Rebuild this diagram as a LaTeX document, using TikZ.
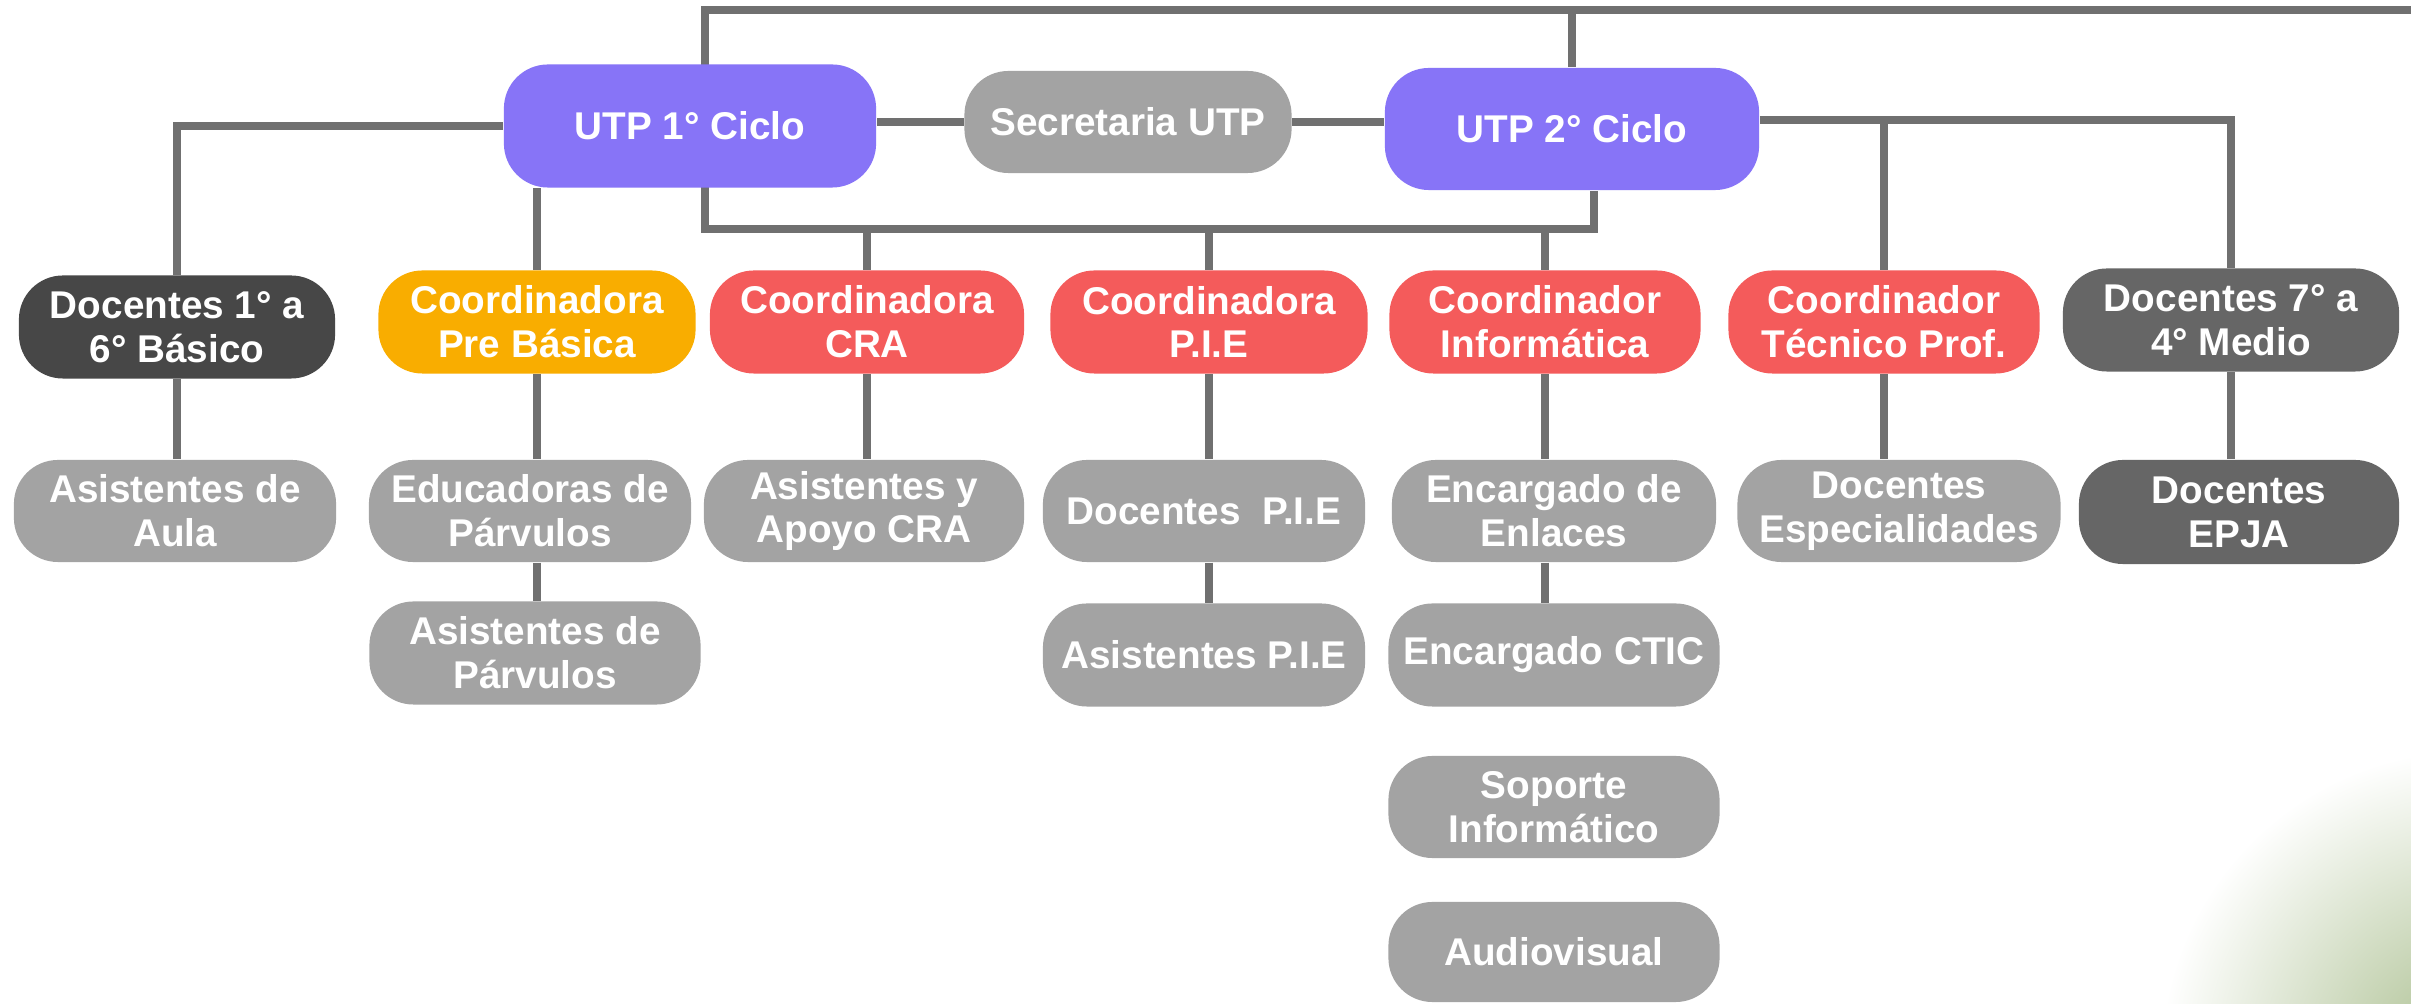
\documentclass[tikz,border=0pt]{standalone}
\usepackage{fontspec}
\setmainfont{Liberation Sans}
\usetikzlibrary{backgrounds}
\definecolor{cpurple}{HTML}{8774F7}
\definecolor{cred}{HTML}{F45B5B}
\definecolor{corange}{HTML}{F9AD00}
\definecolor{clight}{HTML}{A3A3A3}
\definecolor{cdark}{HTML}{474747}
\definecolor{cmid}{HTML}{666666}
\definecolor{cline}{HTML}{707070}
\definecolor{cgreen}{HTML}{A8BD8C}
\begin{document}
\begin{tikzpicture}[x=0.01cm,y=-0.01cm,
  box/.style={rounded corners=0.44cm, minimum height=1.03cm, inner sep=0pt,
    align=center, text=white, font=\bfseries\fontsize{11}{12.5}\selectfont},
  conn/.style={draw=cline, line width=2.2pt}]
\useasboundingbox (0,0) rectangle (2411,1004);
\begin{pgfonlayer}{background}
  \fill[white] (0,0) rectangle (2411,1004);
  \begin{scope}
    \clip (0,0) rectangle (2411,1004);
    \shade[inner color=cgreen, outer color=white] (2470,1060) circle (310);
  \end{scope}
\end{pgfonlayer}

% top level
\node[box, fill=cpurple, minimum width=3.72cm, minimum height=1.23cm] (utp1) at (690,126) {UTP 1° Ciclo};
\node[box, fill=clight, minimum width=3.27cm, minimum height=1.02cm] (sec) at (1128,122) {Secretaria UTP};
\node[box, fill=cpurple, minimum width=3.74cm, minimum height=1.22cm] (utp2) at (1572,129) {UTP 2° Ciclo};

% second row
\node[box, fill=cdark, minimum width=3.16cm] (doc16) at (177,327) {Docentes 1° a\\6° Básico};
\node[box, fill=corange, minimum width=3.17cm] (prebas) at (537,322) {Coordinadora\\Pre Básica};
\node[box, fill=cred, minimum width=3.14cm] (cra) at (867,322) {Coordinadora\\CRA};
\node[box, fill=cred, minimum width=3.17cm] (cpie) at (1209,322) {Coordinadora\\P.I.E};
\node[box, fill=cred, minimum width=3.11cm] (cinf) at (1545,322) {Coordinador\\Informática};
\node[box, fill=cred, minimum width=3.11cm] (ctec) at (1884,322) {Coordinador\\Técnico Prof.};
\node[box, fill=cmid, minimum width=3.36cm] (doc74) at (2231,320) {Docentes 7° a\\4° Medio};

% third row
\node[box, fill=clight, minimum width=3.22cm, minimum height=1.02cm] (aula) at (175,511) {Asistentes de\\Aula};
\node[box, fill=clight, minimum width=3.22cm, minimum height=1.02cm] (educ) at (530,511) {Educadoras de\\Párvulos};
\node[box, fill=clight, minimum width=3.2cm, minimum height=1.02cm] (apoyo) at (864,511) {Asistentes y\\Apoyo CRA};
\node[box, fill=clight, minimum width=3.22cm, minimum height=1.02cm] (dpie) at (1204,511) {Docentes~ P.I.E};
\node[box, fill=clight, minimum width=3.24cm, minimum height=1.02cm] (enl) at (1554,511) {Encargado de\\Enlaces};
\node[box, fill=clight, minimum width=3.23cm, minimum height=1.02cm] (esp) at (1899,511) {Docentes\\Especialidades};
\node[box, fill=cmid, minimum width=3.2cm, minimum height=1.04cm] (epja) at (2239,512) {Docentes\\EPJA};

% fourth row
\node[box, fill=clight, minimum width=3.31cm] (apar) at (535,653) {Asistentes de\\Párvulos};
\node[box, fill=clight, minimum width=3.22cm] (apie) at (1204,655) {Asistentes P.I.E};
\node[box, fill=clight, minimum width=3.31cm] (ctic) at (1554,655) {Encargado CTIC};

% lower
\node[box, fill=clight, minimum width=3.31cm, minimum height=1.02cm] (sop) at (1554,807) {Soporte\\Informático};
\node[box, fill=clight, minimum width=3.31cm, minimum height=1.0cm] (audio) at (1554,952) {Audiovisual};

\begin{pgfonlayer}{background}
  \coordinate (tl) at (705,10);
  \coordinate (tr) at (2411,10);
  \coordinate (busL) at (705,229);
  \coordinate (busR) at (1594,229);
  \coordinate (u2r) at ([yshift=0.09cm]utp2.east);
  \draw[conn] (tr) -- (tl) -- (busL) -- (busR) -- (busR |- utp2.south);
  \draw[conn] (utp2.north) -- (utp2.north |- tl);
  \draw[conn] (utp1.west) -| (doc16.north);
  \draw[conn] (utp1.south -| prebas.north) -- (prebas.north);
  \draw[conn] (sec.west) -- (sec.west -| utp1.east);
  \draw[conn] (sec.east) -- (sec.east -| utp2.west);
  \draw[conn] (u2r) -| (doc74.north);
  \draw[conn] (ctec.north |- u2r) -- (ctec.north);
  \draw[conn] (cra.north |- busL) -- (cra.north);
  \draw[conn] (cpie.north |- busL) -- (cpie.north);
  \draw[conn] (cinf.north |- busL) -- (cinf.north);
  \draw[conn] (doc16.south) -- (doc16.south |- aula.north);
  \draw[conn] (prebas.south) -- (prebas.south |- educ.north);
  \draw[conn] (prebas.south |- educ.south) -- (prebas.south |- apar.north);
  \draw[conn] (cra.south) -- (cra.south |- apoyo.north);
  \draw[conn] (cpie.south) -- (cpie.south |- dpie.north);
  \draw[conn] (cpie.south |- dpie.south) -- (cpie.south |- apie.north);
  \draw[conn] (cinf.south) -- (cinf.south |- enl.north);
  \draw[conn] (cinf.south |- enl.south) -- (cinf.south |- ctic.north);
  \draw[conn] (ctec.south) -- (ctec.south |- esp.north);
  \draw[conn] (doc74.south) -- (doc74.south |- epja.north);
\end{pgfonlayer}
\end{tikzpicture}
\end{document}
